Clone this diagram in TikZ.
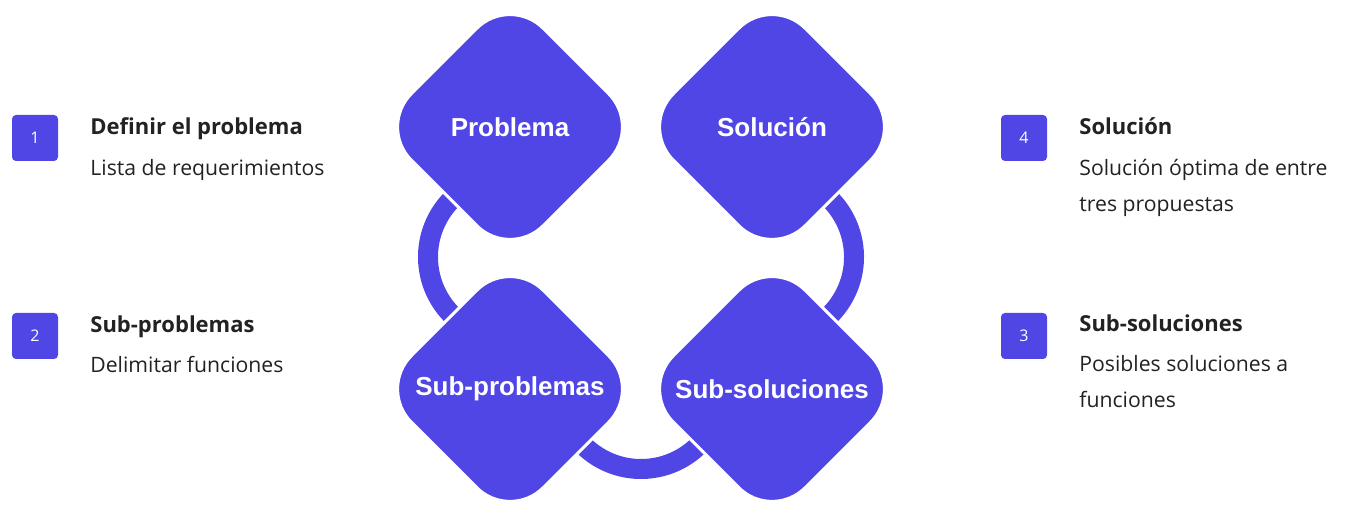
\documentclass[tikz,border=0pt]{standalone}
\usepackage{fontspec}
\setmainfont{Open Sans}
\newfontfamily\diafont{Liberation Sans}
\usetikzlibrary{shapes.geometric}

\definecolor{indigo}{HTML}{4F46E5}
\definecolor{ink}{HTML}{222222}

\tikzset{
  dia/.style={diamond, fill=indigo, draw=white, line width=1.5pt,
    minimum size=132.5pt, inner sep=0pt, rounded corners=23.5pt,
    text=white, font=\diafont\bfseries\fontsize{13}{15}\selectfont},
  ring/.style={indigo, line width=10pt},
  numbox/.style={rectangle, fill=indigo, rounded corners=2pt,
    minimum size=23pt, inner sep=0pt, text=white,
    font=\fontsize{8}{9}\selectfont},
  title/.style={anchor=base west, inner sep=0pt, text=ink,
    font=\bfseries\fontsize{11}{13}\selectfont},
  desc/.style={anchor=base west, inner sep=0pt, text=ink, align=left,
    font=\fontsize{10.6}{18}\selectfont}
}

\begin{document}
\begin{tikzpicture}[x=0.5pt,y=0.5pt]
	\useasboundingbox (0,0) rectangle (1349,507);
	% rings between the diamonds
	\draw[ring] (510,250) ++(100:82) arc (100:260:82);
	\draw[ring] (772,250) ++(-80:82) arc (-80:80:82);
	\draw[ring] (641,120) ++(190:82) arc (190:350:82);
	% diamonds
	\node[dia] (prob) at (510,380) {Problema};
	\node[dia] (sol) at (772,380) {Solución};
	\node[dia] (subprob) at (510,118) {Sub-problemas};
	\node[dia] (subsol) at (772,118) {Sub-soluciones};
	% left column
	\node[numbox] (n1) at (35,369) {1};
	\node[title] (t1) at (90,372) {Definir el problema};
	\node[desc] (d1) at (90,331) {Lista de requerimientos};
	\node[numbox] (n2) at (35,171) {2};
	\node[title] (t2) at (90,174) {Sub-problemas};
	\node[desc] (d2) at (90,134) {Delimitar funciones};
	% right column (base = last line)
	\node[numbox] (n4) at (1024,369) {4};
	\node[title] (t4) at (1079,372) {Solución};
	\node[desc] (d4) at (1079,295) {Solución óptima de entre\\tres propuestas};
	\node[numbox] (n3) at (1024,171) {3};
	\node[title] (t3) at (1079,175) {Sub-soluciones};
	\node[desc] (d3) at (1079,99) {Posibles soluciones a\\funciones};
\end{tikzpicture}
\end{document}
